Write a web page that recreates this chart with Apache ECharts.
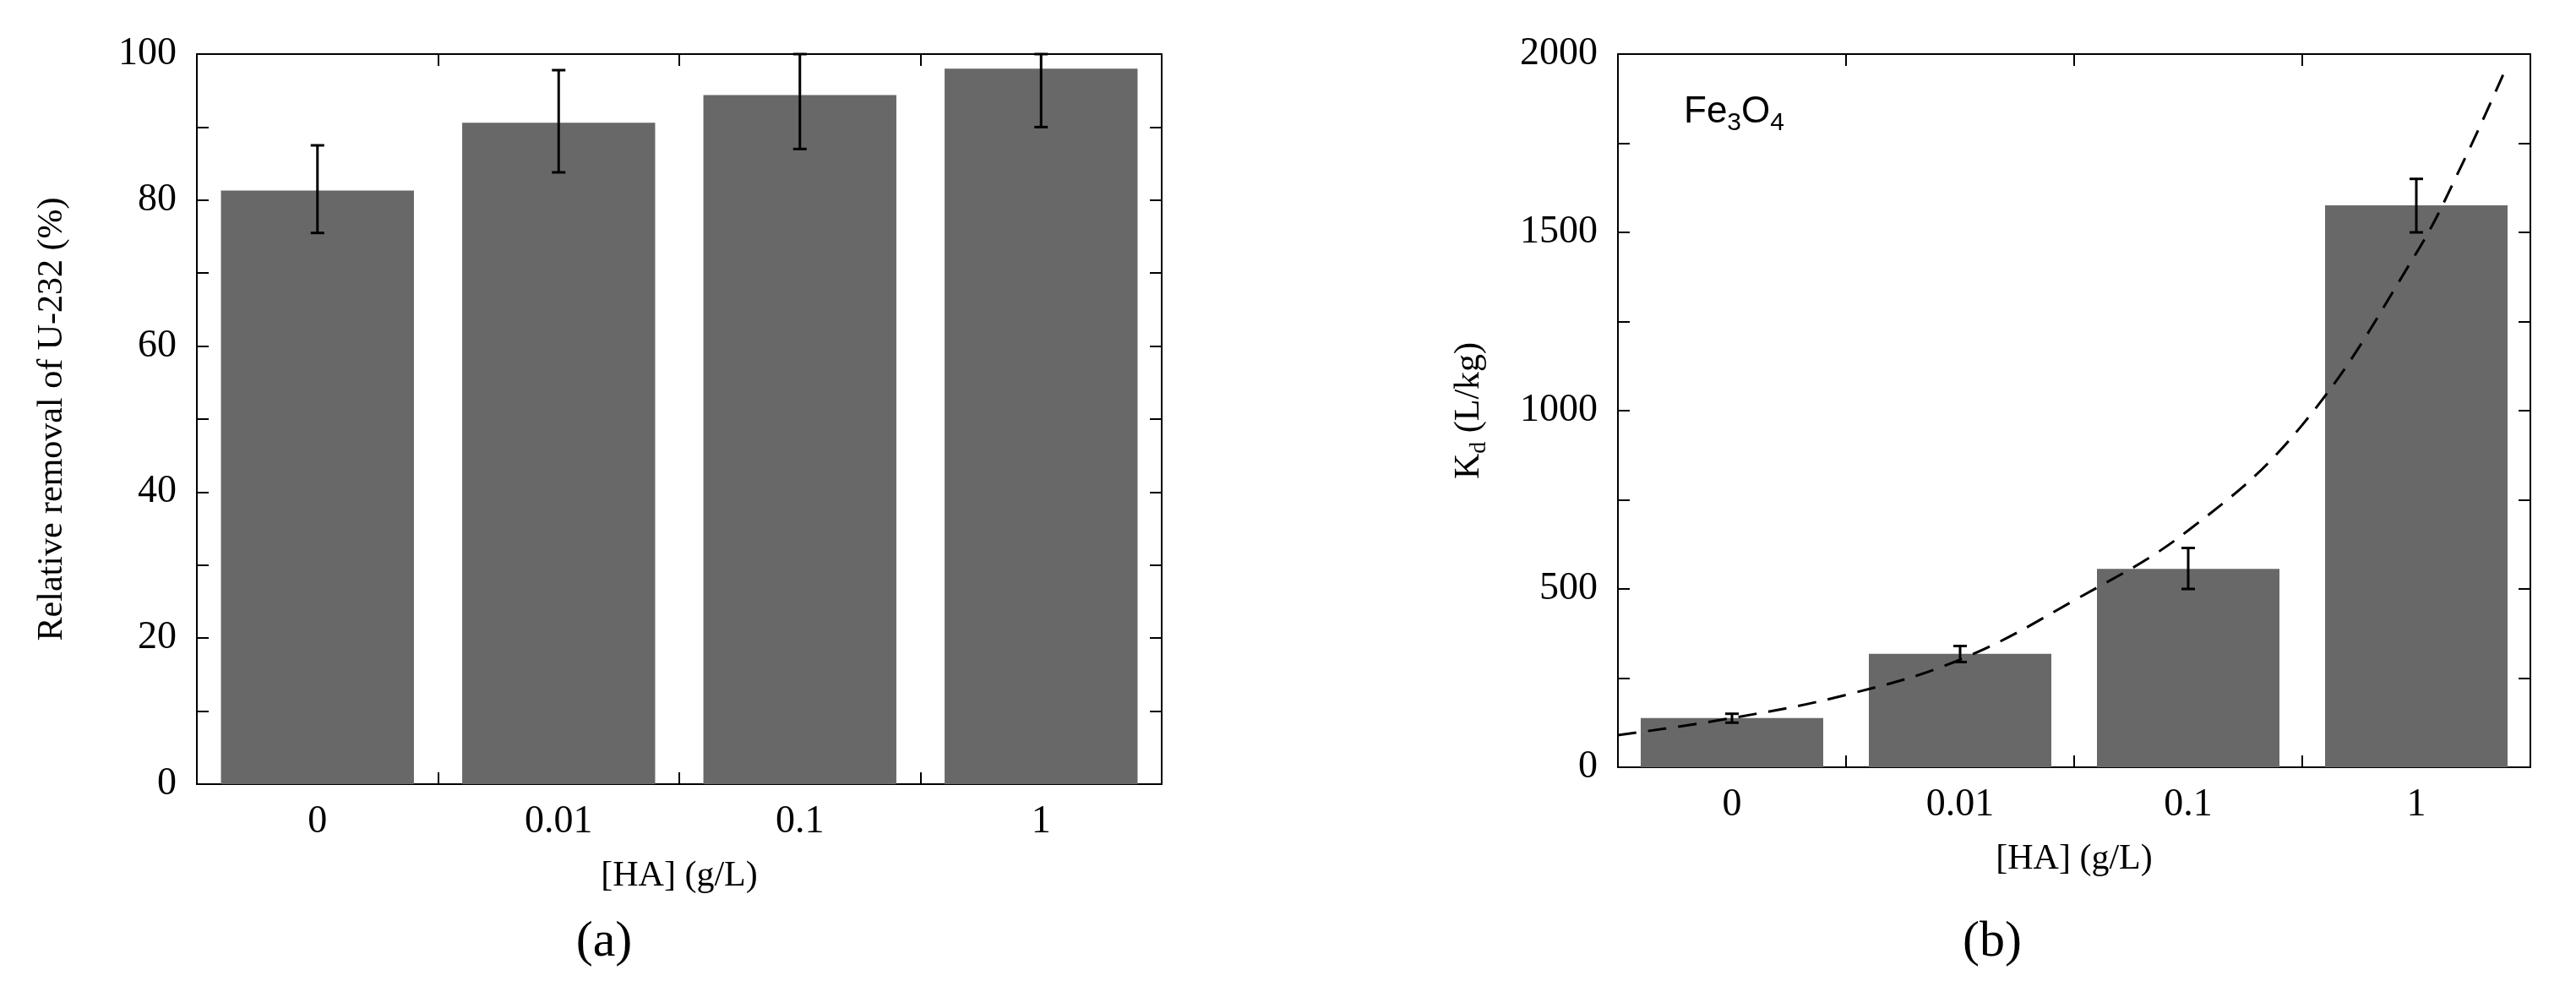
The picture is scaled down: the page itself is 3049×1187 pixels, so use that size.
<!DOCTYPE html>
<html>
<head>
<meta charset="utf-8">
<script src="https://cdn.jsdelivr.net/npm/echarts@6/dist/echarts.min.js"></script>
<style>html,body{margin:0;background:#fff}#chart{width:3049px;height:1187px}</style>
</head>
<body>
<div id="chart"></div>
<script>
const categories = ['0', '0.01', '0.1', '1'];
const removal = [81.3, 90.6, 94.4, 98.0];
const removalLow = [75.5, 83.8, 87.0, 90.0];
const removalHigh = [87.5, 97.8, 100, 100];
const kd = [138, 318, 556, 1576];
const kdLow = [125, 295, 500, 1500];
const kdHigh = [150, 340, 615, 1650];
// dashed fit curve, x in category units (0 = first bar centre)
const fitX = [-0.5, 0, 0.5, 1.0, 1.5, 2.0, 2.5, 3.0, 3.2, 3.4];
const fitY = [90, 138, 203, 302, 468, 664, 960, 1442, 1690, 1970];

const serif = 'Liberation Serif';
const barColor = '#686868';

function errorSeries(xi, yi, low, high) {
    return {
        type: 'custom', xAxisIndex: xi, yAxisIndex: yi, z: 5,
        data: categories.map((c, i) => [i, low[i], high[i]]),
        renderItem: (params, api) => {
            const lo = api.coord([api.value(0), api.value(1)]);
            const hi = api.coord([api.value(0), api.value(2)]);
            const w = 8;
            const st = { stroke: '#000', lineWidth: 3 };
            return { type: 'group', children: [
                { type: 'line', shape: { x1: lo[0], y1: lo[1], x2: hi[0], y2: hi[1] }, style: st },
                { type: 'line', shape: { x1: lo[0] - w, y1: lo[1], x2: lo[0] + w, y2: lo[1] }, style: st },
                { type: 'line', shape: { x1: hi[0] - w, y1: hi[1], x2: hi[0] + w, y2: hi[1] }, style: st }
            ]};
        }
    };
}

function catAxis(grid, pos, show) {
    return {
        type: 'category', gridIndex: grid, position: pos, data: categories,
        axisLine: { show: true, onZero: false, lineStyle: { color: '#000', width: 2 } },
        axisTick: { show: true, inside: true, length: 14, lineStyle: { color: '#000', width: 2 } },
        axisLabel: { show: show, color: '#000', fontFamily: serif, fontSize: 46, margin: 22 },
        name: show ? '[HA] (g/L)' : '', nameLocation: 'middle', nameGap: 88,
        nameTextStyle: { color: '#000', fontFamily: serif, fontSize: 42 }
    };
}

function valAxis(grid, pos, max, interval, show, name) {
    return {
        type: 'value', gridIndex: grid, position: pos, min: 0, max: max, interval: interval,
        splitLine: { show: false },
        axisLine: { show: true, onZero: false, lineStyle: { color: '#000', width: 2 } },
        axisTick: { show: true, inside: true, length: 14, lineStyle: { color: '#000', width: 2 } },
        minorTick: { show: true, splitNumber: 2, length: 14, lineStyle: { color: '#000', width: 2 } },
        axisLabel: { show: show, color: '#000', fontFamily: serif, fontSize: 46, margin: 24,
            formatter: v => String(v) },
        name: name || '', nameLocation: 'middle', nameGap: 150, nameRotate: 90,
        nameTextStyle: { color: '#000', fontFamily: serif, fontSize: 42,
            rich: { sub: { fontFamily: serif, fontSize: 28, padding: [24, 0, 0, 0] } } }
    };
}

const chart = echarts.init(document.getElementById('chart'));
chart.setOption({
    animation: false,
    title: [
        { text: '(a)', left: 710, top: 1080, textAlign: 'center',
          textStyle: { fontFamily: serif, fontSize: 60, fontWeight: 'normal', color: '#000' } },
        { text: '(b)', left: 2353, top: 1080, textAlign: 'center',
          textStyle: { fontFamily: serif, fontSize: 60, fontWeight: 'normal', color: '#000' } },
        { text: 'Fe{s|3}O{s|4}', left: 1988, top: 100,
          textStyle: { fontFamily: 'Liberation Sans', fontSize: 44, fontWeight: 'normal', color: '#000',
            rich: { s: { fontFamily: 'Liberation Sans', fontSize: 30, padding: [26, 0, 0, 0] } } } }
    ],
    grid: [
        { left: 233, top: 64, width: 1142, height: 864 },
        { left: 1915, top: 64, width: 1080, height: 844 }
    ],
    xAxis: [
        catAxis(0, 'bottom', true), catAxis(0, 'top', false),
        catAxis(1, 'bottom', true), catAxis(1, 'top', false),
        { type: 'value', gridIndex: 1, min: -0.5, max: 3.5, show: false }
    ],
    yAxis: [
        valAxis(0, 'left', 100, 20, true, 'Relative removal of U-232 (%)'),
        valAxis(0, 'right', 100, 20, false),
        valAxis(1, 'left', 2000, 500, true, 'K{sub|d} (L/kg)'),
        valAxis(1, 'right', 2000, 500, false)
    ],
    series: [
        { type: 'bar', xAxisIndex: 0, yAxisIndex: 0, data: removal, barCategoryGap: '20%',
          itemStyle: { color: barColor } },
        errorSeries(0, 0, removalLow, removalHigh),
        { type: 'bar', xAxisIndex: 2, yAxisIndex: 2, data: kd, barCategoryGap: '20%',
          itemStyle: { color: barColor } },
        errorSeries(2, 2, kdLow, kdHigh),
        { type: 'line', xAxisIndex: 4, yAxisIndex: 2, smooth: 0.4, symbol: 'none', z: 6,
          data: fitX.map((x, i) => [x, fitY[i]]),
          lineStyle: { color: '#000', width: 3, type: [22, 14] } }
    ]
});
</script>
</body>
</html>
